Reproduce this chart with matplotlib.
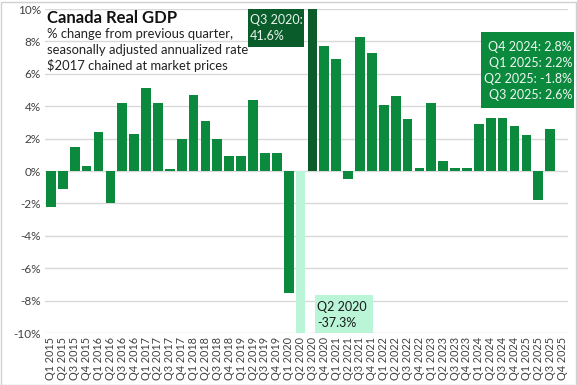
import matplotlib
matplotlib.use("Agg")
import matplotlib.pyplot as plt
from matplotlib.patches import Rectangle

plt.rcParams['font.family'] = ['Lato', 'DejaVu Sans']

quarters = [f"Q{q} {y}" for y in range(2015, 2026) for q in range(1, 5)]
values = [-2.2, -1.1, 1.5, 0.3, 2.4, -2.0, 4.2, 2.3, 5.1, 4.2, 0.1, 2.0,
          4.7, 3.1, 2.0, 0.95, 0.95, 4.4, 1.1, 1.1, -7.5, -37.3, 41.6, 7.7,
          6.9, -0.5, 8.3, 7.3, 4.1, 4.6, 3.2, 0.2, 4.2, 0.6, 0.2, 0.2,
          2.9, 3.3, 3.3, 2.8, 2.2, -1.8, 2.6, None]
yticks = list(range(-10, 11, 2))

GREEN = '#0b8a3e'
DARK = '#0a5c2b'
MINT = '#b9f5d6'

W, H = 577, 385
fig = plt.figure(figsize=(W / 100, H / 100), dpi=100)
ax = fig.add_axes([45 / W, 1 - 333 / H, (568 - 45) / W, (333 - 9) / H])

xs = list(range(len(quarters)))
cols = []
for q in quarters:
    if q == "Q2 2020":
        cols.append(MINT)
    elif q == "Q3 2020":
        cols.append(DARK)
    else:
        cols.append(GREEN)
vals = [v if v is not None else 0 for v in values]
ax.bar(xs, vals, width=0.82, color=cols, zorder=3)

ax.set_ylim(-10, 10)
ax.set_xlim(-0.5, len(quarters) - 0.5)
ax.set_yticks(yticks)
ax.set_yticklabels([f"{t}%" for t in yticks], fontsize=8.5, color='#404040')
ax.set_xticks(xs)
ax.set_xticklabels(quarters, rotation=90, fontsize=7.8, color='#404040')
ax.tick_params(length=0, pad=3)
ax.grid(axis='y', color='#d9d9d9', linewidth=1, zorder=0)
for s in ax.spines.values():
    s.set_visible(False)

def px(x, y):
    return x / W, 1 - y / H

# border
fig.patches.append(Rectangle((0.5 / W, 0.5 / H), (W - 2) / W, (H - 2) / H,
                             transform=fig.transFigure, fill=False,
                             edgecolor='#d0d0d0', linewidth=1))

# title
fig.text(*px(47, 18), "Canada Real GDP", fontsize=12, fontweight='bold',
         va='center', ha='left', color='#111111')
for i, line in enumerate(["% change from previous quarter,",
                          "seasonally adjusted annualized rate",
                          "$2017 chained at market prices"]):
    fig.text(*px(47, 34 + 15.5 * i), line, fontsize=9.4, va='center',
             ha='left', color='#222222')

def box(x0, y0, x1, y1, color):
    fig.patches.append(Rectangle((x0 / W, 1 - y1 / H), (x1 - x0) / W,
                                 (y1 - y0) / H, transform=fig.transFigure,
                                 facecolor=color, edgecolor='none', zorder=5))

box(248, 9, 304, 47, DARK)
fig.text(*px(250, 20), "Q3 2020:", fontsize=9, color='#e8f5ec', va='center',
         ha='left', zorder=6)
fig.text(*px(250, 36), "41.6%", fontsize=9, color='#e8f5ec', va='center',
         ha='left', zorder=6)

box(315, 295, 373, 333, MINT)
fig.text(*px(317, 307), "Q2 2020", fontsize=9, color='#1a1a1a', va='center',
         ha='left', zorder=6)
fig.text(*px(317, 323), "-37.3%", fontsize=9, color='#1a1a1a', va='center',
         ha='left', zorder=6)

box(481, 32, 574, 108, GREEN)
for i, line in enumerate(["Q4 2024: 2.8%", "Q1 2025: 2.2%",
                          "Q2 2025: -1.8%", "Q3 2025: 2.6%"]):
    fig.text(*px(572, 47 + 16 * i), line, fontsize=9, color='#f0f8f2',
             va='center', ha='right', zorder=6)

fig.savefig("out.png", dpi=100)
